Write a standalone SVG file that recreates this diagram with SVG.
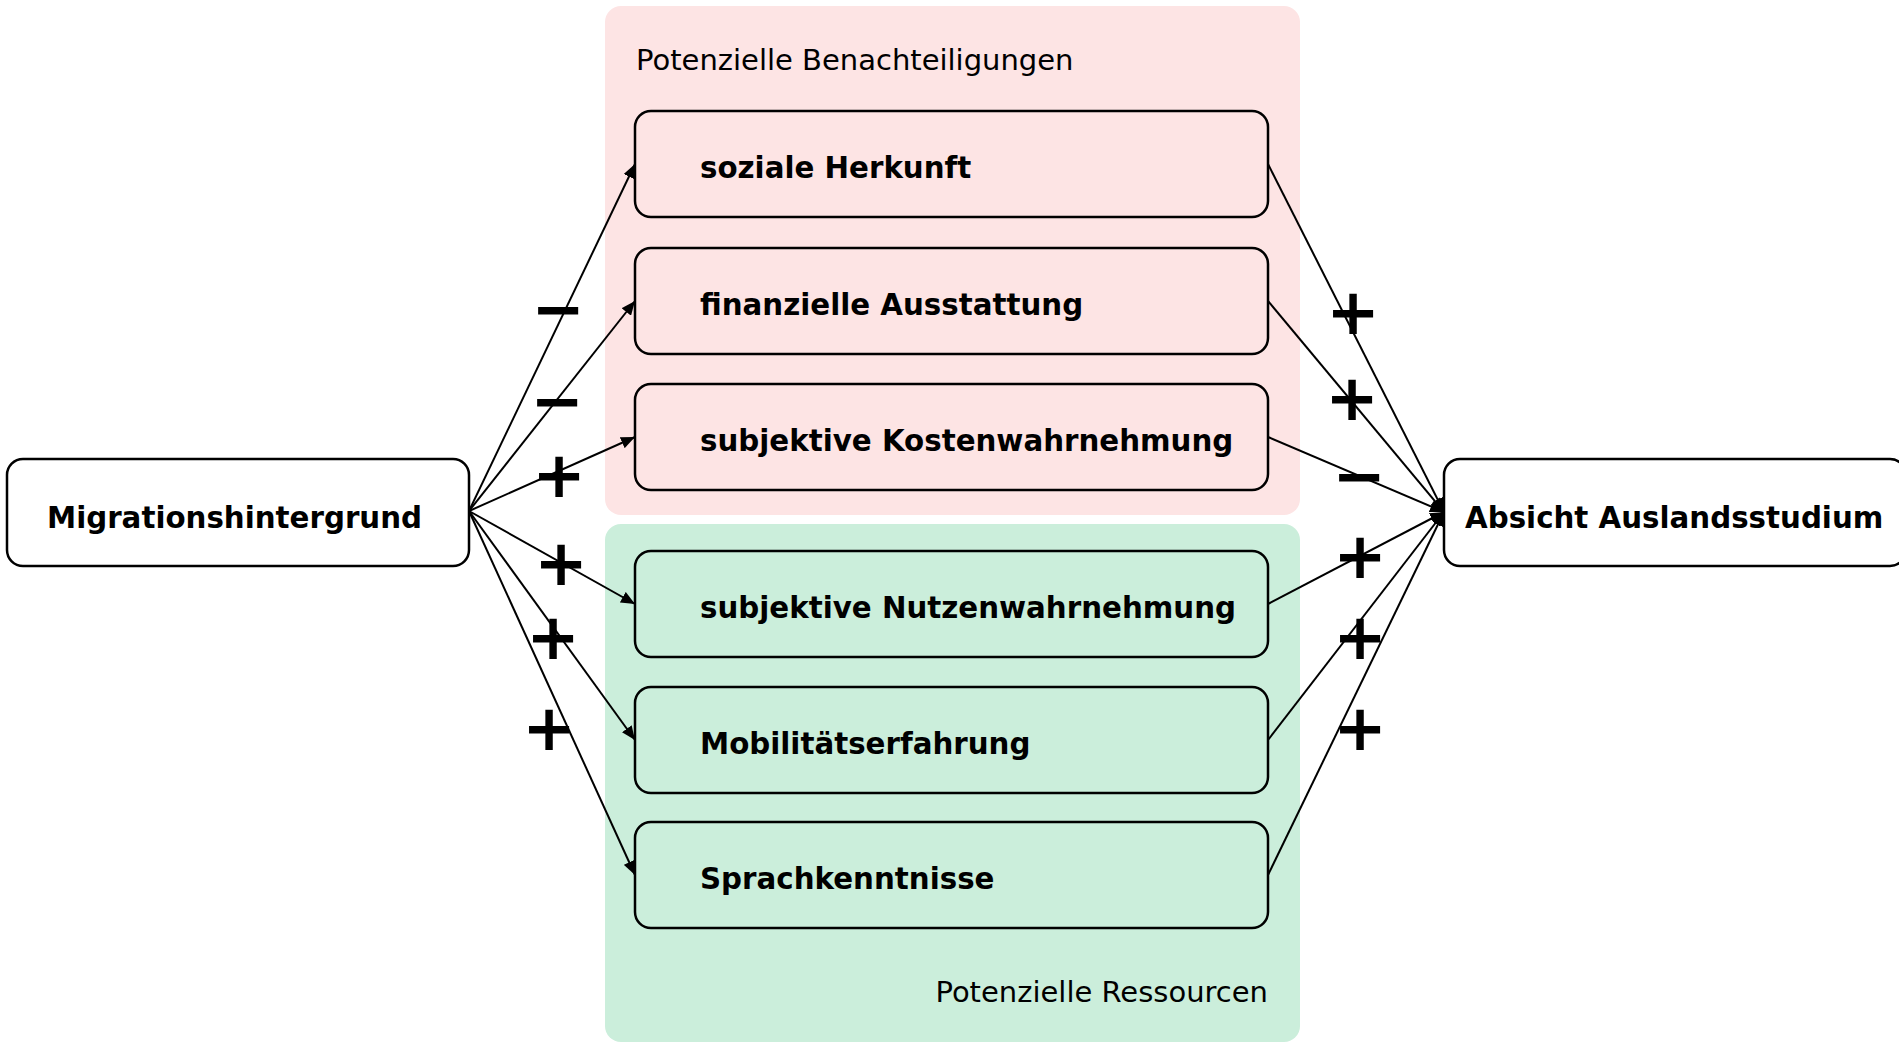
<svg xmlns="http://www.w3.org/2000/svg" width="1899" height="1045" viewBox="0 0 1899 1045">
<defs>
<style>
.grp-pink{fill:#fde4e4;}
.grp-green{fill:#cbeedb;}
.box{fill:none;stroke:#000;stroke-width:2.5;}
.outer{fill:#fff;stroke:#000;stroke-width:2.5;}
.lbl{font-family:"DejaVu Sans",Verdana,sans-serif;font-size:29.3px;font-weight:bold;fill:#000;}
.grp-lbl{font-family:"DejaVu Sans",Verdana,sans-serif;font-size:29px;fill:#000;}
.sign{font-family:"DejaVu Sans",sans-serif;font-size:64px;font-weight:bold;fill:#000;text-anchor:middle;}
.conn{stroke:#000;stroke-width:2;fill:none;marker-end:url(#arr);}
</style>
<marker id="arr" viewBox="0 0 14 12" refX="14" refY="6" markerWidth="14" markerHeight="12" markerUnits="userSpaceOnUse" orient="auto">
<path d="M0,0 L14,6 L0,12 Z" fill="#000"/>
</marker>
</defs>
<rect width="1899" height="1045" fill="#fff"/>
<g id="group-benachteiligungen">
<rect class="grp-pink" x="605" y="6" width="695" height="509" rx="16"/>
<text class="grp-lbl" x="636" y="70">Potenzielle Benachteiligungen</text>
</g>
<g id="group-ressourcen">
<rect class="grp-green" x="605" y="524" width="695" height="518" rx="16"/>
<text class="grp-lbl" x="1268" y="1002" text-anchor="end">Potenzielle Ressourcen</text>
</g>
<g id="connectors">
<line class="conn" x1="469" y1="511" x2="635" y2="164"/>
<line class="conn" x1="469" y1="511" x2="635" y2="301"/>
<line class="conn" x1="469" y1="511" x2="635" y2="437"/>
<line class="conn" x1="469" y1="511" x2="635" y2="604"/>
<line class="conn" x1="469" y1="511" x2="635" y2="740"/>
<line class="conn" x1="469" y1="511" x2="635" y2="875"/>
<line class="conn" x1="1268" y1="164" x2="1444" y2="512"/>
<line class="conn" x1="1268" y1="301" x2="1444" y2="512"/>
<line class="conn" x1="1268" y1="437" x2="1444" y2="512"/>
<line class="conn" x1="1268" y1="604" x2="1444" y2="512"/>
<line class="conn" x1="1268" y1="740" x2="1444" y2="512"/>
<line class="conn" x1="1268" y1="875" x2="1444" y2="512"/>
</g>
<g id="signs">
<text class="sign" x="558" y="331">−</text>
<text class="sign" x="557" y="423">−</text>
<text class="sign" x="559" y="497">+</text>
<text class="sign" x="561" y="585">+</text>
<text class="sign" x="553" y="659">+</text>
<text class="sign" x="549" y="750">+</text>
<text class="sign" x="1353" y="334">+</text>
<text class="sign" x="1352" y="420">+</text>
<text class="sign" x="1359" y="498">−</text>
<text class="sign" x="1360" y="578">+</text>
<text class="sign" x="1360" y="659">+</text>
<text class="sign" x="1360" y="750">+</text>
</g>
<g id="node-migration">
<rect class="outer" x="7" y="459" width="462" height="107" rx="16"/>
<text class="lbl" x="47" y="528">Migrationshintergrund</text>
</g>
<g id="node-absicht">
<rect class="outer" x="1444" y="459" width="462" height="107" rx="16"/>
<text class="lbl" x="1465" y="528">Absicht Auslandsstudium</text>
</g>
<g id="node-soziale">
<rect class="box" x="635" y="111" width="633" height="106" rx="16"/>
<text class="lbl" x="700" y="178">soziale Herkunft</text>
</g>
<g id="node-finanzielle">
<rect class="box" x="635" y="248" width="633" height="106" rx="16"/>
<text class="lbl" x="700" y="315">finanzielle Ausstattung</text>
</g>
<g id="node-kosten">
<rect class="box" x="635" y="384" width="633" height="106" rx="16"/>
<text class="lbl" x="700" y="451">subjektive Kostenwahrnehmung</text>
</g>
<g id="node-nutzen">
<rect class="box" x="635" y="551" width="633" height="106" rx="16"/>
<text class="lbl" x="700" y="618">subjektive Nutzenwahrnehmung</text>
</g>
<g id="node-mobilitaet">
<rect class="box" x="635" y="687" width="633" height="106" rx="16"/>
<text class="lbl" x="700" y="754">Mobilitätserfahrung</text>
</g>
<g id="node-sprache">
<rect class="box" x="635" y="822" width="633" height="106" rx="16"/>
<text class="lbl" x="700" y="889">Sprachkenntnisse</text>
</g>
</svg>
